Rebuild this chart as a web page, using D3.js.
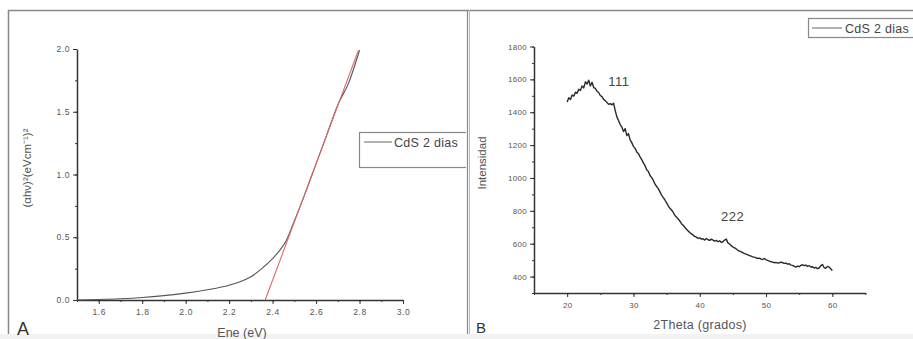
<!DOCTYPE html>
<html><head><meta charset="utf-8">
<script src="https://cdn.jsdelivr.net/npm/d3@7"></script>
<style>
html,body{margin:0;padding:0;background:#fff;}
svg{display:block;font-family:"Liberation Sans",Arial,sans-serif;}
</style></head>
<body>
<svg id="c" width="913" height="339"></svg>
<script>
// ---- Panel A data: (alpha h nu)^2 vs energy ----
const energyEv = [1.50,1.60,1.70,1.80,1.90,2.00,2.10,2.20,2.25,2.30,2.35,2.40,2.43,2.46,2.50,2.55,2.60,2.65,2.70,2.75,2.80];
const absorption = [0.000,0.004,0.010,0.020,0.035,0.055,0.082,0.118,0.145,0.185,0.250,0.330,0.390,0.465,0.630,0.850,1.085,1.320,1.555,1.730,1.990];
const fitEnergy = [2.366, 2.795];
const fitAbsorption = [0.0, 1.99];
const xTicksA = [1.6,1.8,2.0,2.2,2.4,2.6,2.8,3.0];
const yTicksA = [0.0,0.5,1.0,1.5,2.0];

// ---- Panel B data: XRD intensity vs 2Theta ----
const xrdAngle = [20.00,20.25,20.50,20.75,21.00,21.25,21.50,21.75,22.00,22.25,22.50,22.75,23.00,23.25,23.50,23.75,24.00,24.25,24.50,24.75,
25.00,25.25,25.50,25.75,26.00,26.25,26.50,26.75,27.00,27.25,27.50,27.75,28.00,28.25,28.50,28.75,29.00,29.25,29.50,29.75,
30.00,30.25,30.50,30.75,31.00,31.25,31.50,31.75,32.00,32.25,32.50,32.75,33.00,33.25,33.50,33.75,34.00,34.25,34.50,34.75,
35.00,35.25,35.50,35.75,36.00,36.25,36.50,36.75,37.00,37.25,37.50,37.75,38.00,38.25,38.50,38.75,39.00,39.25,39.50,39.75,
40.00,40.25,40.50,40.75,41.00,41.25,41.50,41.75,42.00,42.25,42.50,42.75,43.00,43.25,43.50,43.75,44.00,44.25,44.50,44.75,
45.00,45.25,45.50,45.75,46.00,46.25,46.50,46.75,47.00,47.25,47.50,47.75,48.00,48.25,48.50,48.75,49.00,49.25,49.50,49.75,
50.00,50.25,50.50,50.75,51.00,51.25,51.50,51.75,52.00,52.25,52.50,52.75,53.00,53.25,53.50,53.75,54.00,54.25,54.50,54.75,
55.00,55.25,55.50,55.75,56.00,56.25,56.50,56.75,57.00,57.25,57.50,57.75,58.00,58.25,58.50,58.75,59.00,59.25,59.50,59.75,60.00];
const xrdIntensity = [1462,1488,1478,1505,1498,1522,1515,1540,1532,1560,1548,1585,1572,1595,1560,1582,1550,1545,1528,1520,
1502,1495,1478,1470,1460,1448,1452,1445,1455,1410,1372,1350,1325,1310,1282,1300,1258,1270,1232,1215,
1192,1180,1158,1148,1128,1112,1092,1075,1050,1040,1015,1002,985,962,948,935,915,895,880,866,
848,830,815,805,790,772,762,750,738,722,712,700,688,678,668,660,652,645,640,632,
636,628,630,622,632,624,620,628,622,616,620,612,618,608,612,622,628,605,598,588,
580,574,568,560,555,550,545,540,536,532,528,524,520,518,514,510,512,506,504,510,
502,498,494,490,488,484,486,482,484,488,484,480,482,476,478,470,468,462,458,464,
460,468,472,466,470,462,466,458,460,452,456,448,452,465,474,455,450,462,458,448,436];
const xTicksB = [20,30,40,50,60];
const yTicksB = [400,600,800,1000,1200,1400,1600,1800];
const peakLabels = ["111","222"];
const peakAngle = [26.2, 43.2];
const peakIntensity = [1560, 740];
const seriesName = "CdS 2 dias";

const svg = d3.select("#c");
const axisColor = "#333";
const textColor = "#555";

// frame
const frame = svg.append("g").attr("stroke","#888").attr("fill","none");
frame.append("line").attr("x1",8).attr("x2",913).attr("y1",10.5).attr("y2",10.5).attr("stroke-width",1.5);
frame.append("line").attr("x1",8.5).attr("x2",8.5).attr("y1",10).attr("y2",339).attr("stroke-width",1.5);
frame.append("line").attr("x1",467.5).attr("x2",467.5).attr("y1",10).attr("y2",339).attr("stroke-width",1.2);
frame.append("line").attr("x1",469.5).attr("x2",469.5).attr("y1",10).attr("y2",339).attr("stroke-width",1).attr("stroke","#bbb");
svg.append("rect").attr("x",0).attr("y",334).attr("width",913).attr("height",5).attr("fill","#f2f2f2");

svg.append("defs").append("clipPath").attr("id","clipA")
  .append("rect").attr("x",9).attr("y",11).attr("width",457).attr("height",328);

function styleAxis(g){
  g.select(".domain").attr("stroke",axisColor).attr("stroke-width",1.5);
  g.selectAll(".tick line").attr("stroke",axisColor).attr("stroke-width",1);
  g.selectAll(".tick text").attr("fill",textColor).attr("font-size","8.5px").attr("letter-spacing","0.6px");
}
function minor(g){
  g.select(".domain").remove();
  g.selectAll("text").remove();
  g.selectAll(".tick line").attr("stroke",axisColor).attr("stroke-width",1);
}

// ===== Panel A =====
const xA = d3.scaleLinear().domain([1.5,3.0]).range([77,403]);
const yA = d3.scaleLinear().domain([0,2.0]).range([300,49]);
const gA = svg.append("g");

gA.append("g").attr("transform","translate(0,300)")
  .call(d3.axisBottom(xA).tickValues(d3.range(1.5,3.01,0.1)).tickSize(2).tickFormat(""))
  .call(minor);
gA.append("g").attr("transform","translate(77,0)")
  .call(d3.axisLeft(yA).tickValues(d3.range(0,2.01,0.25)).tickSize(2).tickFormat(""))
  .call(minor);
gA.append("g").attr("transform","translate(0,300)")
  .call(d3.axisBottom(xA).tickValues(xTicksA).tickSize(4).tickSizeOuter(0).tickPadding(5).tickFormat(d3.format(".1f")))
  .call(styleAxis);
gA.append("g").attr("transform","translate(77,0)")
  .call(d3.axisLeft(yA).tickValues(yTicksA).tickSize(4).tickSizeOuter(0).tickPadding(3).tickFormat(d3.format(".1f")))
  .call(styleAxis);

const lineA = d3.line().x(d=>xA(d[0])).y(d=>yA(d[1])).curve(d3.curveMonotoneX);
gA.append("path").datum(energyEv.map((e,i)=>[e,absorption[i]]))
  .attr("d",lineA).attr("fill","none").attr("stroke","#555").attr("stroke-width",1.1);
gA.append("path").datum(fitEnergy.map((e,i)=>[e,fitAbsorption[i]]))
  .attr("d",d3.line().x(d=>xA(d[0])).y(d=>yA(d[1]))).attr("fill","none").attr("stroke","#e06a6a").attr("stroke-width",1.1);

gA.append("text").attr("transform","translate(31,168) rotate(-90)").attr("text-anchor","middle")
  .attr("fill",textColor).attr("font-size","11.5px").text("(αhν)²(eVcm⁻¹)²");
gA.append("text").attr("x",242).attr("y",337).attr("text-anchor","middle")
  .attr("fill",textColor).attr("font-size","12.5px").text("Ene (eV)");
gA.append("text").attr("x",17).attr("y",335).attr("fill","#333").attr("font-size","18px").text("A");

const legA = gA.append("g").attr("clip-path","url(#clipA)");
legA.append("rect").attr("x",359.5).attr("y",132.5).attr("width",130).attr("height",35)
  .attr("fill","none").attr("stroke","#888").attr("stroke-width",1.2);
legA.append("line").attr("x1",364).attr("x2",392).attr("y1",142).attr("y2",142).attr("stroke","#666").attr("stroke-width",1);
legA.append("text").attr("x",394).attr("y",146.5).attr("fill","#444").attr("font-size","12.5px").attr("letter-spacing","0.3px").text(seriesName);

// ===== Panel B =====
const xB = d3.scaleLinear().domain([15,65]).range([534,865.5]);
const yB = d3.scaleLinear().domain([300,1800]).range([293,46.5]);
const gB = svg.append("g");

gB.append("g").attr("transform","translate(0,293)")
  .call(d3.axisBottom(xB).tickValues(d3.range(15,66,5)).tickSize(2).tickFormat(""))
  .call(minor);
gB.append("g").attr("transform","translate(534,0)")
  .call(d3.axisLeft(yB).tickValues(d3.range(300,1801,100)).tickSize(2).tickFormat(""))
  .call(minor);
gB.append("g").attr("transform","translate(0,293)")
  .call(d3.axisBottom(xB).tickValues(xTicksB).tickSize(4).tickSizeOuter(0).tickPadding(5).tickFormat(d3.format("d")))
  .call(styleAxis);
gB.append("g").attr("transform","translate(534,0)")
  .call(d3.axisLeft(yB).tickValues(yTicksB).tickSize(4).tickSizeOuter(0).tickPadding(3).tickFormat(d3.format("d")))
  .call(styleAxis);
gB.selectAll(".tick text").attr("font-size","8px").attr("letter-spacing","0.3px");

gB.append("path").datum(xrdAngle.map((a,i)=>[a,xrdIntensity[i]]))
  .attr("d",d3.line().x(d=>xB(d[0])).y(d=>yB(d[1])))
  .attr("fill","none").attr("stroke","#2a2a2a").attr("stroke-width",1.4).attr("stroke-linejoin","round");

peakLabels.forEach((t,i)=>{
  gB.append("text").attr("x",xB(peakAngle[i])).attr("y",yB(peakIntensity[i]))
    .attr("fill","#444").attr("font-size","13px").attr("letter-spacing","0.5px").text(t);
});

gB.append("text").attr("transform","translate(486,163) rotate(-90)").attr("text-anchor","middle")
  .attr("fill",textColor).attr("font-size","11.5px").text("Intensidad");
gB.append("text").attr("x",700).attr("y",329).attr("text-anchor","middle")
  .attr("fill",textColor).attr("font-size","12.5px").attr("letter-spacing","0.3px").text("2Theta (grados)");
gB.append("text").attr("x",476).attr("y",333).attr("fill","#333").attr("font-size","15px").text("B");

gB.append("rect").attr("x",808.5).attr("y",18.5).attr("width",130).attr("height",19)
  .attr("fill","none").attr("stroke","#888").attr("stroke-width",1.2);
gB.append("line").attr("x1",812).attr("x2",842).attr("y1",28).attr("y2",28).attr("stroke","#666").attr("stroke-width",1);
gB.append("text").attr("x",845).attr("y",32.5).attr("fill","#444").attr("font-size","12.5px").attr("letter-spacing","0.3px").text(seriesName);
</script>
</body></html>
